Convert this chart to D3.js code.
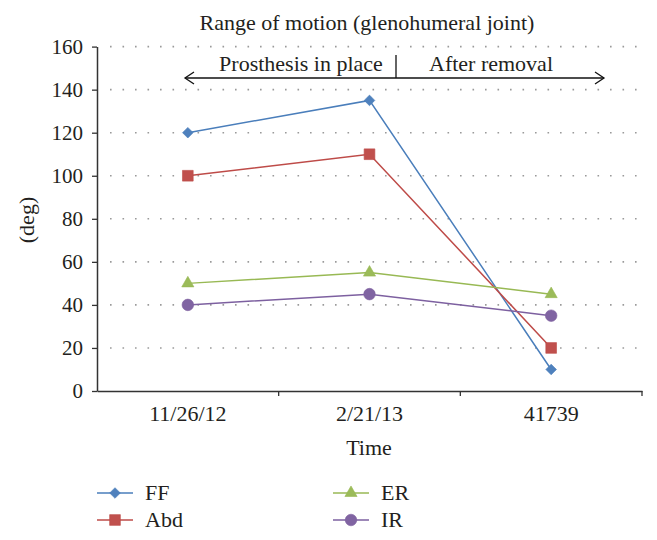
<!DOCTYPE html>
<html><head><meta charset="utf-8">
<script src="https://cdn.jsdelivr.net/npm/d3@7"></script>
<style>body{margin:0;background:#fff}svg{display:block}</style>
</head><body><svg id="c" width="657" height="540"></svg>
<script>
const categories = ["11/26/12", "2/21/13", "41739"];
const ffValues = [120, 135, 10];
const abdValues = [100, 110, 20];
const erValues = [50, 55, 45];
const irValues = [40, 45, 35];
const yTicks = [0, 20, 40, 60, 80, 100, 120, 140, 160];
const seriesNames = ["FF", "Abd", "ER", "IR"];

const FONT = "'Liberation Serif', 'DejaVu Serif', serif";
const FS = 22;

const series = [
  {name: seriesNames[0], values: ffValues, line: "#4a7ebb", fill: "#4f81bd", shape: d3.symbolDiamond2, size: 72},
  {name: seriesNames[1], values: abdValues, line: "#be4b48", fill: "#c0504d", shape: d3.symbolSquare, size: 115},
  {name: seriesNames[2], values: erValues, line: "#98b954", fill: "#9bbb59", shape: d3.symbolTriangle, size: 64},
  {name: seriesNames[3], values: irValues, line: "#7d60a0", fill: "#8064a2", shape: d3.symbolCircle, size: 105}
];

const svg = d3.select("#c");
const L = 97, R = 642, T = 46.6, B = 391;
const x = d3.scaleBand().domain(categories).range([L, R]);
const y = d3.scaleLinear().domain([0, 160]).range([B, T]);

// gridlines
svg.append("g").selectAll("line").data(yTicks.filter(d => d > 0)).join("line")
  .attr("x1", L + 13).attr("x2", R).attr("y1", d => y(d)).attr("y2", d => y(d))
  .attr("stroke", "#9a9a9a").attr("stroke-width", 1.6).attr("stroke-dasharray", "1.6,10.9");

// y axis
const ya = svg.append("g").attr("transform", `translate(${L},0)`)
  .call(d3.axisLeft(y).tickValues(yTicks).tickSize(5).tickSizeOuter(0).tickPadding(9));
ya.attr("font-family", FONT).attr("font-size", 21);
ya.select(".domain").attr("stroke", "#333").attr("stroke-width", 1.5);
ya.selectAll(".tick line").attr("stroke", "#333").attr("stroke-width", 1.3);
ya.selectAll(".tick text").attr("fill", "#231f20");

// x axis
const xa = svg.append("g").attr("transform", `translate(0,${B})`)
  .call(d3.axisBottom(x).tickSize(0).tickPadding(14));
xa.attr("font-family", FONT).attr("font-size", FS);
xa.select(".domain").attr("stroke", "#333").attr("stroke-width", 1.5);
xa.selectAll(".tick text").attr("fill", "#231f20");
const edges = categories.map(c => x(c)).concat([R]).slice(1);
svg.append("g").selectAll("line").data(edges).join("line")
  .attr("x1", d => d).attr("x2", d => d).attr("y1", B).attr("y2", B + 5)
  .attr("stroke", "#333").attr("stroke-width", 1.3);

// series lines and markers
const cx = c => x(c) + x.bandwidth() / 2;
series.forEach(s => {
  const pts = categories.map((c, i) => [cx(c), y(s.values[i])]);
  svg.append("path").attr("d", d3.line()(pts)).attr("fill", "none")
    .attr("stroke", s.line).attr("stroke-width", 1.5);
  svg.append("g").selectAll("path").data(pts).join("path")
    .attr("transform", d => `translate(${d[0]},${d[1]})`)
    .attr("d", d3.symbol().type(s.shape).size(s.size)).attr("fill", s.fill)
    .attr("stroke", s.line).attr("stroke-width", 0.6);
});

const txt = (x0, y0, s, anchor) => svg.append("text").attr("x", x0).attr("y", y0)
  .attr("text-anchor", anchor || "middle").attr("font-family", FONT).attr("font-size", FS)
  .attr("fill", "#231f20").text(s);

// title
txt(367, 30, "Range of motion (glenohumeral joint)");

// annotation
const ay = 78, ax1 = 185, ax2 = 604, sep = 396;
svg.append("line").attr("x1", ax1).attr("x2", ax2).attr("y1", ay).attr("y2", ay)
  .attr("stroke", "#111").attr("stroke-width", 1.3);
svg.append("path").attr("d", `M${ax1 + 9},${ay - 6}L${ax1},${ay}L${ax1 + 9},${ay + 6}`)
  .attr("fill", "none").attr("stroke", "#111").attr("stroke-width", 1.3);
svg.append("path").attr("d", `M${ax2 - 9},${ay - 6}L${ax2},${ay}L${ax2 - 9},${ay + 6}`)
  .attr("fill", "none").attr("stroke", "#111").attr("stroke-width", 1.3);
svg.append("line").attr("x1", sep).attr("x2", sep).attr("y1", 55).attr("y2", ay)
  .attr("stroke", "#111").attr("stroke-width", 1.3);
txt(301, 71, "Prosthesis in place");
txt(491, 71, "After removal");

// axis titles
svg.append("text").attr("transform", "translate(34,220) rotate(-90)").attr("text-anchor", "middle")
  .attr("font-family", FONT).attr("font-size", FS).attr("fill", "#231f20").text("(deg)");
txt(369, 455, "Time");

// legend
const legPos = [[97, 493], [97, 520], [333, 493], [333, 520]];
series.forEach((s, i) => {
  const [lx, ly] = legPos[i];
  const g = svg.append("g").attr("transform", `translate(${lx},${ly})`);
  g.append("line").attr("x1", 0).attr("x2", 36).attr("y1", 0).attr("y2", 0)
    .attr("stroke", s.line).attr("stroke-width", 1.5);
  g.append("path").attr("transform", "translate(18,0)")
    .attr("d", d3.symbol().type(s.shape).size(s.size)).attr("fill", s.fill)
    .attr("stroke", s.line).attr("stroke-width", 0.6);
  g.append("text").attr("x", 48).attr("y", 7).attr("font-family", FONT).attr("font-size", FS)
    .attr("fill", "#231f20").text(s.name);
});
</script></body></html>
